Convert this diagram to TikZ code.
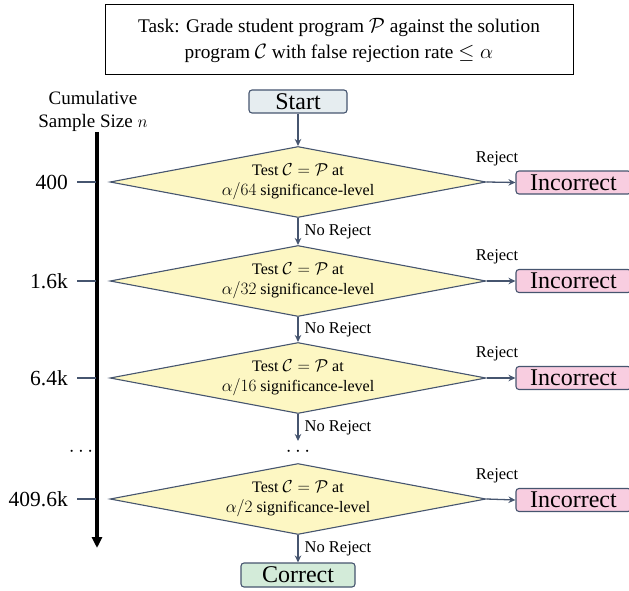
\documentclass[tikz,border=0pt]{standalone}
\usepackage{fontspec}
\setmainfont{Liberation Serif}
\usetikzlibrary{shapes.geometric,arrows.meta}
\definecolor{edgec}{HTML}{46556F}
\definecolor{dfill}{HTML}{FDF7C3}
\definecolor{sfill}{HTML}{E6EDF0}
\definecolor{cfill}{HTML}{D3EBD9}
\definecolor{ifill}{HTML}{F8CDE0}
\begin{document}
\begin{tikzpicture}[x=1pt,y=-1pt,
  flow/.style={draw=edgec,line width=1.3pt,-{Stealth[length=7pt,width=6.5pt]}},
  test/.style={diamond,draw=edgec,line width=1.1pt,fill=dfill,minimum width=376pt,minimum height=71pt,inner sep=0pt,aspect=5.3,align=center,font=\fontsize{16}{20}\selectfont},
  termbox/.style={draw=edgec,line width=1.1pt,rounded corners=3pt,minimum height=23pt,inner sep=0pt,font=\fontsize{24}{24}\selectfont},
  lab/.style={inner sep=0pt,font=\fontsize{16.5}{18}\selectfont},
  ticklab/.style={inner sep=0pt,anchor=east,font=\fontsize{21.5}{22}\selectfont},
  tickline/.style={draw=edgec,line width=1.6pt}]
\useasboundingbox (0,0) rectangle (629,591);
% title
\node[draw=black,line width=1pt,minimum width=468pt,minimum height=70pt,align=center,font=\fontsize{19.3}{26}\selectfont] (task) at (339,40)
  {Task: Grade student program $\mathcal{P}$ against the solution\\program $\mathcal{C}$ with false rejection rate $\leq\alpha$};
% axis
\node[align=center,inner sep=0pt,font=\fontsize{19}{23}\selectfont] (axlab) at (93,111.5) {Cumulative\\Sample Size $n$};
\coordinate (axtop) at (97,132);
\coordinate (axbot) at (97,548);
\draw[line width=3.5pt,-{Triangle[length=11pt,width=10pt]}] (axtop) -- (axbot);
% flow
\node[termbox,fill=sfill,minimum width=98pt] (start) at (298,101.5) {Start};
\node[test] (d1) at (298,182) {Test $\mathcal{C}=\mathcal{P}$ at\\$\alpha/64$ significance-level};
\node[test] (d2) at (298,281) {Test $\mathcal{C}=\mathcal{P}$ at\\$\alpha/32$ significance-level};
\node[test] (d3) at (298,378) {Test $\mathcal{C}=\mathcal{P}$ at\\$\alpha/16$ significance-level};
\node[inner sep=0pt,font=\fontsize{20}{22}\selectfont] (dots) at (298,452) {$\cdots$};
\coordinate (d3end) at (298,441);
\node[test] (d4) at (298,499) {Test $\mathcal{C}=\mathcal{P}$ at\\$\alpha/2$ significance-level};
\node[termbox,fill=cfill,minimum width=114pt,minimum height=24pt] (corr) at (298,575) {Correct};
\foreach \n/\y in {1/182.5,2/281,3/378,4/500}{
  \node[termbox,fill=ifill,minimum width=115pt] (inc\n) at (573.5,\y) {Incorrect};
  \draw[flow] (d\n.east) -- (inc\n.west);
  \node[lab] at (497,\y-24) {Reject};
}
\draw[flow] (start) -- (d1.north);
\draw[flow] (d1.south) -- node[lab,right=6pt] {No Reject} (d2.north);
\draw[flow] (d2.south) -- node[lab,right=6pt] {No Reject} (d3.north);
\draw[flow] (d3.south) -- node[lab,right=6pt] {No Reject} (d3end);
\draw[flow] (d4.south) -- node[lab,right=6pt] {No Reject} (corr.north);
% ticks
\foreach \n/\t/\y in {1/400/182,2/1.6k/281,3/6.4k/378,4/409.6k/499}{
  \node[ticklab] (t\n) at (68,\y) {\t};
  \draw[tickline] (77,\y) -- (96,\y);
}
\node[inner sep=0pt,font=\fontsize{20}{22}\selectfont] (ldots) at (81,452) {$\cdots$};
\end{tikzpicture}
\end{document}
